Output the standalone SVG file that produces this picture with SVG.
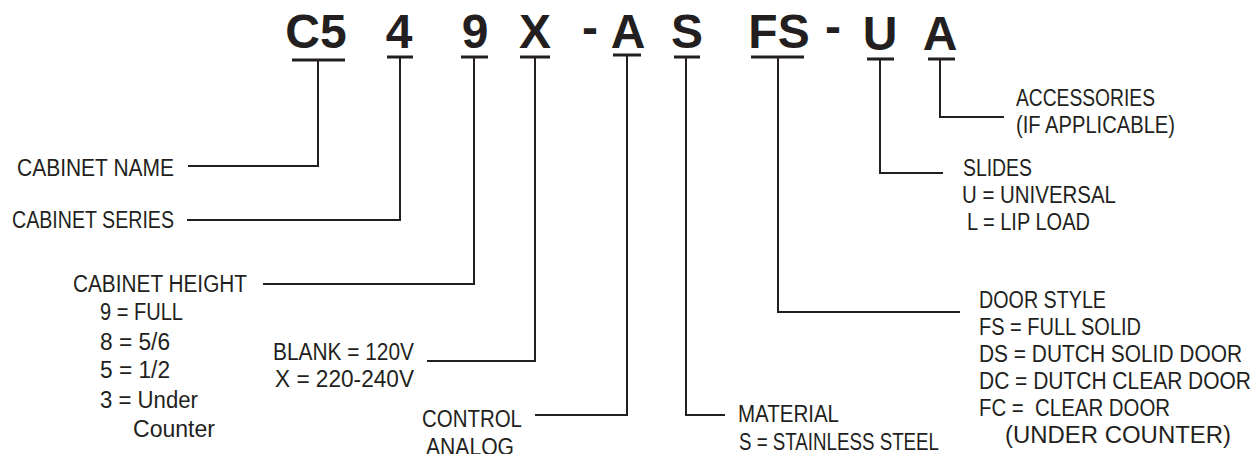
<svg xmlns="http://www.w3.org/2000/svg" width="1257" height="454" viewBox="0 0 1257 454">
<style>
.code{font-family:"Liberation Sans",Arial,sans-serif;font-weight:bold;font-size:48px;fill:#231f20;text-anchor:middle}
.lbl{font-family:"Liberation Sans",Arial,sans-serif;font-size:23px;fill:#231f20}
.ul{stroke:#231f20;stroke-width:3;fill:none}
.con{stroke:#231f20;stroke-width:2;fill:none}
</style>
<rect width="1257" height="454" fill="#ffffff"/>
<g id="code">
<text class="code" x="316" y="48">C5</text>
<text class="code" x="399" y="48">4</text>
<text class="code" x="475" y="48">9</text>
<text class="code" x="535" y="48">X</text>
<text class="code" x="590" y="44">-</text>
<text class="code" x="628" y="48">A</text>
<text class="code" x="687" y="48">S</text>
<text class="code" x="779" y="48">FS</text>
<text class="code" x="833" y="43">-</text>
<text class="code" x="880" y="50">U</text>
<text class="code" x="940" y="50">A</text>
<path class="ul" d="M292 60H345M387 57H413M461 57H488M520 57H550M613 55H641M674 57H700M751 57H804M867 59H894M928 59H955"/>
</g>
<g id="connectors">
<path class="con" d="M318 60V166H188"/>
<path class="con" d="M400 57V220H187"/>
<path class="con" d="M474 57V284H263"/>
<path class="con" d="M535 57V361H427"/>
<path class="con" d="M627 55V415H535"/>
<path class="con" d="M686 57V415H725"/>
<path class="con" d="M778 57V312H960"/>
<path class="con" d="M880 59V173H943"/>
<path class="con" d="M940 59V117H1004"/>
</g>
<g id="cabinet-name"><text class="lbl" x="17" y="176" textLength="157" lengthAdjust="spacingAndGlyphs">CABINET NAME</text></g>
<g id="cabinet-series"><text class="lbl" x="12" y="228" textLength="162" lengthAdjust="spacingAndGlyphs">CABINET SERIES</text></g>
<g id="cabinet-height">
<text class="lbl" x="73" y="292" textLength="174" lengthAdjust="spacingAndGlyphs">CABINET HEIGHT</text>
<text class="lbl" x="100" y="320" textLength="83" lengthAdjust="spacingAndGlyphs">9 = FULL</text>
<text class="lbl" x="100" y="350" textLength="70" lengthAdjust="spacingAndGlyphs">8 = 5/6</text>
<text class="lbl" x="100" y="378" textLength="70" lengthAdjust="spacingAndGlyphs">5 = 1/2</text>
<text class="lbl" x="100" y="408" textLength="98" lengthAdjust="spacingAndGlyphs">3 = Under</text>
<text class="lbl" x="133" y="437" textLength="82" lengthAdjust="spacingAndGlyphs">Counter</text>
</g>
<g id="voltage">
<text class="lbl" x="273" y="360" textLength="141" lengthAdjust="spacingAndGlyphs">BLANK = 120V</text>
<text class="lbl" x="275" y="387" textLength="139" lengthAdjust="spacingAndGlyphs">X = 220-240V</text>
</g>
<g id="control">
<text class="lbl" x="422" y="427" textLength="100" lengthAdjust="spacingAndGlyphs">CONTROL</text>
<text class="lbl" x="426" y="455" textLength="88" lengthAdjust="spacingAndGlyphs">ANALOG</text>
</g>
<g id="material">
<text class="lbl" x="738" y="422" textLength="101" lengthAdjust="spacingAndGlyphs">MATERIAL</text>
<text class="lbl" x="739" y="450" textLength="200" lengthAdjust="spacingAndGlyphs">S = STAINLESS STEEL</text>
</g>
<g id="door-style">
<text class="lbl" x="979" y="308" textLength="127" lengthAdjust="spacingAndGlyphs">DOOR STYLE</text>
<text class="lbl" x="979" y="335" textLength="162" lengthAdjust="spacingAndGlyphs">FS = FULL SOLID</text>
<text class="lbl" x="979" y="362" textLength="263" lengthAdjust="spacingAndGlyphs">DS = DUTCH SOLID DOOR</text>
<text class="lbl" x="979" y="389" textLength="272" lengthAdjust="spacingAndGlyphs">DC = DUTCH CLEAR DOOR</text>
<text class="lbl" x="979" y="416" textLength="191" lengthAdjust="spacingAndGlyphs" xml:space="preserve">FC =  CLEAR DOOR</text>
<text class="lbl" x="1005" y="443" textLength="226" lengthAdjust="spacingAndGlyphs">(UNDER COUNTER)</text>
</g>
<g id="slides">
<text class="lbl" x="963" y="176" textLength="69" lengthAdjust="spacingAndGlyphs">SLIDES</text>
<text class="lbl" x="962" y="203" textLength="154" lengthAdjust="spacingAndGlyphs">U = UNIVERSAL</text>
<text class="lbl" x="967" y="230" textLength="123" lengthAdjust="spacingAndGlyphs">L = LIP LOAD</text>
</g>
<g id="accessories">
<text class="lbl" x="1016" y="106" textLength="139" lengthAdjust="spacingAndGlyphs">ACCESSORIES</text>
<text class="lbl" x="1016" y="133" textLength="159" lengthAdjust="spacingAndGlyphs">(IF APPLICABLE)</text>
</g>
</svg>
